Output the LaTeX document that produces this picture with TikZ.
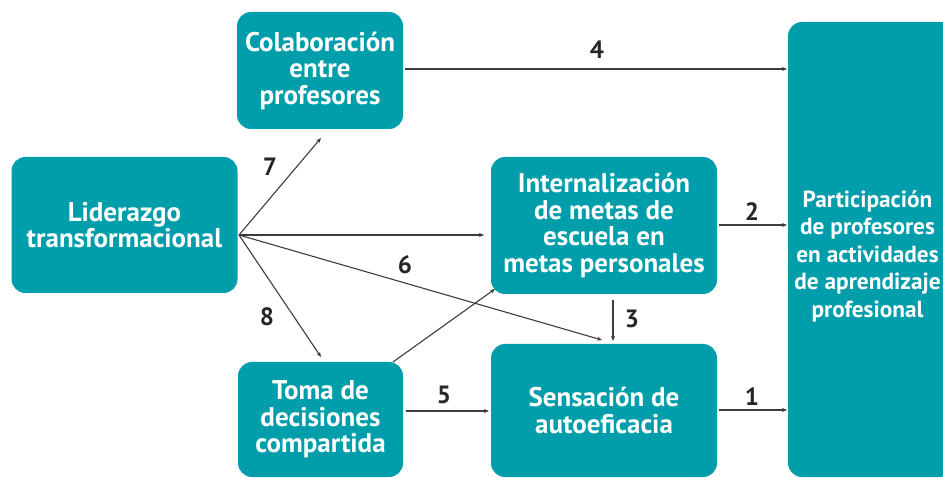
\documentclass[tikz,border=0pt]{standalone}
\usepackage{fontspec}
\setmainfont{PT Sans}
\usetikzlibrary{arrows.meta}
\definecolor{teal1}{RGB}{0,157,170}
\definecolor{arrgray}{RGB}{60,60,60}
\begin{document}
\begin{tikzpicture}[x=1pt,y=-1pt,
  box/.style={draw=none,fill=teal1,rounded corners=14pt,text=white,
    font=\bfseries\fontsize{27}{26.5}\selectfont,align=center,inner sep=0pt},
  arr/.style={draw=arrgray,line width=1.1pt,-{Stealth[length=5pt,width=4pt]}},
  num/.style={font=\bfseries\fontsize{25}{26}\selectfont,text=black!85}]
\useasboundingbox (0,0) rectangle (943,478);
\begin{scope}
\clip (0,0) rectangle (943,478);
\node[box,minimum width=226pt,minimum height=117pt,minimum width=166pt] (colab) at (320,70.5) {Colaboración\\entre\\profesores};
\node[box,minimum width=226pt,minimum height=136pt] (lider) at (124.5,225) {Liderazgo\\transformacional};
\node[box,minimum width=226pt,minimum height=137pt] (intern) at (604,225.5) {Internalización\\de metas de\\escuela en\\metas personales};
\node[box,minimum width=226pt,minimum height=133pt] (sens) at (604,410.5) {Sensación de\\autoeficacia};
\node[box,minimum width=165pt,minimum height=115pt] (toma) at (320.5,419.5) {Toma de\\decisiones\\compartida};
\node[box,minimum width=166pt,minimum height=455pt] (part) at (871,249.5) {};
\node[font=\bfseries\fontsize{23.3}{27.5}\selectfont,text=white,align=center,inner sep=0pt] (parttxt) at (867.5,256) {Participación\\de profesores\\en actividades\\de aprendizaje\\profesional};
\end{scope}
\coordinate (L) at (239,235);
\coordinate (e7) at (321,138);
\coordinate (eI) at (484,235);
\coordinate (e6) at (602,340);
\coordinate (e8) at (321,357);
\coordinate (sT) at (393,362);
\coordinate (eT) at (495,289);
\coordinate (s4) at (405,69);
\coordinate (e4) at (787,69);
\coordinate (s2) at (719,225);
\coordinate (e2) at (787,225);
\coordinate (s1) at (719,410);
\coordinate (e1) at (787,410);
\coordinate (s3) at (613,300);
\coordinate (e3) at (613,341);
\coordinate (s5) at (406,411);
\coordinate (e5) at (489,411);
\draw[arr] (L) -- (e7);
\draw[arr] (L) -- (eI);
\draw[arr] (L) -- (e6);
\draw[arr] (L) -- (e8);
\draw[arr] (sT) -- (eT);
\draw[arr] (s4) -- (e4);
\draw[arr] (s2) -- (e2);
\draw[arr] (s1) -- (e1);
\draw[arr] (s3) -- (e3);
\draw[arr] (s5) -- (e5);
\node[num] (n4) at (597,50) {4};
\node[num] (n2) at (752,212) {2};
\node[num] (n1) at (752,397) {1};
\node[num] (n3) at (632,319) {3};
\node[num] (n5) at (444,395) {5};
\node[num] (n6) at (405,265) {6};
\node[num] (n7) at (270,167) {7};
\node[num] (n8) at (267,317) {8};
\end{tikzpicture}
\end{document}
